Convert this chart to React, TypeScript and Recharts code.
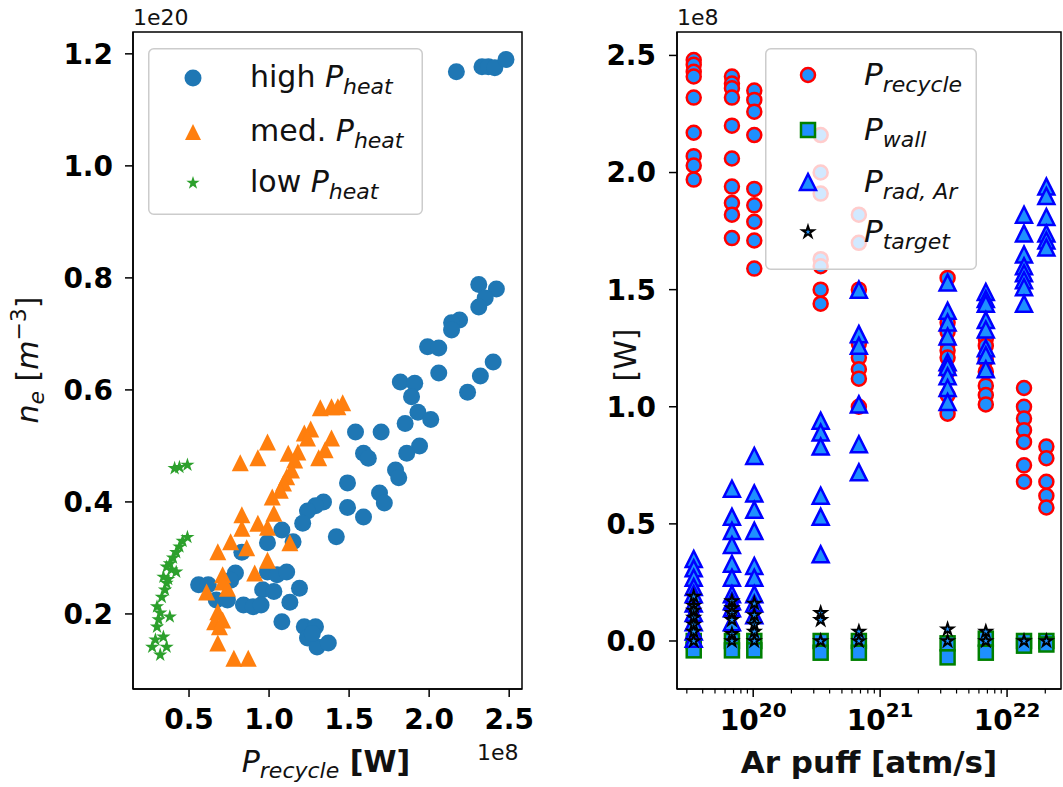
import React from 'react';
import { ScatterChart, Scatter, XAxis, YAxis, ReferenceArea, Legend } from 'recharts';

const FONT = '"DejaVu Sans", sans-serif';

// left panel: [P_recycle (1e8 W), n_e (1e20 m^-3)]
const highPheat = [
  [2.17, 1.168], [2.33, 1.177], [2.37, 1.177], [2.41, 1.175], [2.48, 1.19],
  [2.31, 0.788], [2.42, 0.78], [2.35, 0.764], [2.31, 0.748], [2.19, 0.725], [2.14, 0.72], [2.14, 0.707],
  [1.99, 0.677], [2.06, 0.675], [2.06, 0.63], [2.4, 0.65], [2.32, 0.625], [2.24, 0.596], [1.82, 0.614],
  [1.91, 0.612], [1.89, 0.588], [1.93, 0.56], [2.01, 0.547], [1.85, 0.54], [1.7, 0.525], [1.54, 0.525],
  [1.94, 0.5], [1.86, 0.487], [1.59, 0.487], [1.62, 0.478], [1.79, 0.457], [1.81, 0.443], [1.49, 0.434],
  [1.69, 0.416], [1.72, 0.398], [1.49, 0.39], [1.34, 0.4], [1.29, 0.393], [1.24, 0.384], [1.59, 0.373],
  [1.21, 0.362], [1.08, 0.35], [1.15, 0.329], [0.99, 0.327], [1.42, 0.338], [0.83, 0.31], [0.79, 0.273],
  [0.99, 0.275], [1.05, 0.27], [1.11, 0.275], [0.56, 0.252], [0.62, 0.252], [0.76, 0.26], [0.96, 0.243],
  [1.03, 0.24], [1.19, 0.246], [0.67, 0.225], [0.74, 0.225], [0.84, 0.216], [0.9, 0.213], [0.95, 0.216],
  [1.13, 0.221], [1.08, 0.186], [1.22, 0.177], [1.29, 0.177], [1.24, 0.157], [1.3, 0.141], [1.37, 0.148],
  [1.27, 0.165],
];

const medPheat = [
  [1.32, 0.568], [1.39, 0.57], [1.43, 0.57], [1.46, 0.577], [1.22, 0.523], [1.26, 0.53], [1.24, 0.514],
  [1.39, 0.514], [0.99, 0.507], [1.35, 0.493], [1.31, 0.479], [0.93, 0.479], [0.82, 0.47], [1.12, 0.487],
  [1.18, 0.489], [1.16, 0.475], [1.14, 0.457], [1.11, 0.445], [1.09, 0.434], [1.07, 0.421], [1.02, 0.409],
  [0.83, 0.377], [1.03, 0.38], [0.83, 0.353], [0.93, 0.362], [0.99, 0.355], [0.76, 0.329], [0.86, 0.318],
  [0.68, 0.311], [0.99, 0.296], [1.13, 0.327], [0.91, 0.273], [0.71, 0.27], [0.71, 0.257], [0.74, 0.246],
  [0.61, 0.239], [0.68, 0.204], [0.66, 0.186], [0.71, 0.189], [0.69, 0.177], [0.68, 0.148], [0.78, 0.121],
  [0.87, 0.121],
];

const lowPheat = [
  [0.44, 0.462], [0.49, 0.466], [0.41, 0.46], [0.49, 0.337], [0.46, 0.33], [0.44, 0.32], [0.42, 0.31],
  [0.4, 0.3], [0.38, 0.29], [0.36, 0.284], [0.39, 0.279], [0.34, 0.266], [0.36, 0.255], [0.33, 0.23],
  [0.3, 0.213], [0.38, 0.195], [0.3, 0.177], [0.34, 0.159], [0.27, 0.141], [0.32, 0.127], [0.36, 0.141],
  [0.29, 0.154], [0.32, 0.202], [0.35, 0.243], [0.42, 0.275], [0.37, 0.262], [0.31, 0.19],
];

// right panel: Ar puff rate per scan column, powers in 1e8 W
const arPuff = [3.4e19, 6.8e19, 1.02e20, 3.4e20, 6.8e20, 3.4e21, 6.8e21, 1.36e22, 2.04e22];

const pRecycle = [
  [2.48, 2.46, 2.43, 2.41, 2.32, 2.17, 2.07, 2.03, 1.97],
  [2.41, 2.38, 2.36, 2.32, 2.2, 2.06, 1.94, 1.87, 1.82, 1.72],
  [2.35, 2.31, 2.26, 2.16, 1.93, 1.86, 1.79, 1.71, 1.59],
  [2.16, 2.0, 1.91, 1.63, 1.6, 1.5, 1.44],
  [1.82, 1.7, 1.5, 1.27, 1.21, 1.16, 1.12, 1.0],
  [1.55, 1.36, 1.32, 1.27, 1.24, 1.21, 1.15, 1.05, 0.97],
  [1.29, 1.26, 1.2, 1.15, 1.09, 1.05, 1.01],
  [1.08, 1.0, 0.95, 0.9, 0.85, 0.75, 0.68],
  [0.83, 0.78, 0.68, 0.62, 0.57],
];

const pWall = [
  [0.0, -0.04], [0.0, -0.04], [0.0, -0.04], [0.0, -0.05], [0.0, -0.05],
  [-0.01, -0.07], [0.01, -0.05], [0.0, -0.02], [0.0, -0.015],
];

const pRadAr = [
  [0.35, 0.31, 0.27, 0.23, 0.2, 0.16, 0.12, 0.08, 0.04, 0.01],
  [0.65, 0.53, 0.47, 0.41, 0.33, 0.27, 0.2, 0.17, 0.14, 0.08],
  [0.79, 0.63, 0.56, 0.47, 0.32, 0.27, 0.2, 0.16, 0.11],
  [0.94, 0.89, 0.83, 0.62, 0.53, 0.37],
  [1.5, 1.31, 1.26, 1.01, 0.84, 0.72],
  [1.53, 1.41, 1.36, 1.3, 1.19, 1.17, 1.13, 1.08, 1.02],
  [1.49, 1.46, 1.44, 1.37, 1.33, 1.25, 1.22, 1.16],
  [1.82, 1.74, 1.65, 1.6, 1.57, 1.54, 1.51, 1.44],
  [1.94, 1.9, 1.81, 1.74, 1.71, 1.68],
];

const pTarget = [
  [0.19, 0.15, 0.13, 0.1, 0.07, 0.04, 0.0],
  [0.17, 0.14, 0.12, 0.09, 0.03, 0.0],
  [0.16, 0.11, 0.07, 0.04, 0.0],
  [0.12, 0.09, 0.0],
  [0.04, 0.0],
  [0.05, 0.0],
  [0.04, 0.0],
  [0.0],
  [0.0],
];

const recycleTicks = [0.5, 1.0, 1.5, 2.0, 2.5];
const neTicks = [0.2, 0.4, 0.6, 0.8, 1.0, 1.2];
const powerTicks = [0.0, 0.5, 1.0, 1.5, 2.0, 2.5];
const puffTicks = [
  3e19, 4e19, 5e19, 6e19, 7e19, 8e19, 9e19, 1e20,
  2e20, 3e20, 4e20, 5e20, 6e20, 7e20, 8e20, 9e20, 1e21,
  2e21, 3e21, 4e21, 5e21, 6e21, 7e21, 8e21, 9e21, 1e22, 2e22,
];

const toPoints = (pairs: number[][]) => pairs.map(([x, y]) => ({ x, y }));
const columnPoints = (cols: number[][]) => cols.flatMap((vals, i) => vals.map((y) => ({ x: arPuff[i], y })));

const DODGER = '#1e90ff';

const triPoints = (cx: number, cy: number, s: number) =>
  `${cx},${cy - s / 2} ${cx - s / 2},${cy + s / 2} ${cx + s / 2},${cy + s / 2}`;

const starPoints = (cx: number, cy: number, r: number) => {
  const pts: string[] = [];
  for (let i = 0; i < 10; i++) {
    const rad = i % 2 === 0 ? r : r * 0.381966;
    const a = -Math.PI / 2 + (i * Math.PI) / 5;
    pts.push(`${cx + rad * Math.cos(a)},${cy + rad * Math.sin(a)}`);
  }
  return pts.join(' ');
};

const tickFont = { fontSize: 28, fontWeight: 'bold', fill: '#000', fontFamily: FONT };

const LogTick = (props: any) => {
  const { x, y, payload } = props;
  const lg = Math.log10(payload.value);
  const exp = Math.round(lg);
  const major = Math.abs(lg - exp) < 1e-6;
  return (
    <g>
      <line x1={x} y1={y} x2={x} y2={y + (major ? 8 : 4.5)} stroke="#000" strokeWidth={major ? 1.5 : 1.2} />
      {major && (
        <text x={x} y={y + 41} textAnchor="middle" {...tickFont}>
          10<tspan dy={-13} fontSize={20}>{exp}</tspan>
        </text>
      )}
    </g>
  );
};

const LeftLegend = () => (
  <svg width={275} height={167} style={{ display: 'block' }}>
    <rect x={0.75} y={0.75} width={273.5} height={165.5} rx={5} fill="#fff" fillOpacity={0.8} stroke="#cccccc" strokeWidth={1.5} />
    <circle cx={45} cy={30} r={8.5} fill="#1f77b4" />
    <polygon points={triPoints(45, 84, 16)} fill="#ff7f0e" />
    <polygon points={starPoints(45, 135, 7)} fill="#2ca02c" />
    {[['high ', 39], ['med. ', 93], ['low ', 144]].map(([t, y]) => (
      <text key={t as string} x={102} y={y as number} fontSize={30} fontFamily={FONT} fill="#111">
        {t}<tspan fontStyle="italic">P</tspan><tspan fontStyle="italic" fontSize={22} dy={7}>heat</tspan>
      </text>
    ))}
  </svg>
);

const RightLegend = () => (
  <svg width={212} height={222} style={{ display: 'block' }}>
    <rect x={0.75} y={0.75} width={210.5} height={220.5} rx={5} fill="#fff" fillOpacity={0.8} stroke="#cccccc" strokeWidth={1.5} />
    <circle cx={43} cy={27} r={7} fill={DODGER} stroke="#ff0000" strokeWidth={2.5} />
    <rect x={36} y={75} width={14} height={14} fill={DODGER} stroke="#008000" strokeWidth={2.5} />
    <polygon points={triPoints(43, 134, 16)} fill={DODGER} stroke="#0000ff" strokeWidth={2.5} />
    <polygon points={starPoints(43, 184, 6)} fill={DODGER} stroke="#000" strokeWidth={2} />
    {[['recycle', 37], ['wall', 92], ['rad, Ar', 144], ['target', 194]].map(([t, y]) => (
      <text key={t as string} x={99} y={y as number} fontSize={31} fontFamily={FONT} fontStyle="italic" fill="#111">
        P<tspan fontSize={22} dy={7}>{t}</tspan>
      </text>
    ))}
  </svg>
);

const LeftPanel = () => (
  <ScatterChart width={560} height={787} margin={{ top: 32, right: 38, bottom: 38, left: 0 }}>
    <XAxis
      type="number"
      dataKey="x"
      domain={[0.15, 2.58]}
      allowDataOverflow
      ticks={recycleTicks}
      interval={0}
      tickFormatter={(v: number) => v.toFixed(1)}
      height={60}
      tick={tickFont}
      tickSize={8}
      tickMargin={12}
      axisLine={{ stroke: '#000', strokeWidth: 1.5 }}
      tickLine={{ stroke: '#000', strokeWidth: 1.5 }}
    />
    <YAxis
      type="number"
      dataKey="y"
      domain={[0.066, 1.239]}
      allowDataOverflow
      ticks={neTicks}
      interval={0}
      tickFormatter={(v: number) => v.toFixed(1)}
      width={133}
      tick={tickFont}
      tickSize={8}
      tickMargin={12}
      axisLine={{ stroke: '#000', strokeWidth: 1.5 }}
      tickLine={{ stroke: '#000', strokeWidth: 1.5 }}
    />
    <ReferenceArea x1={0.15} x2={2.58} y1={0.066} y2={1.239} fill="none" stroke="#000" strokeWidth={1.5} />
    <Scatter
      name="high"
      data={toPoints(highPheat)}
      isAnimationActive={false}
      shape={(p: any) => <circle cx={p.cx} cy={p.cy} r={8.5} fill="#1f77b4" />}
    />
    <Scatter
      name="med"
      data={toPoints(medPheat)}
      isAnimationActive={false}
      shape={(p: any) => <polygon points={triPoints(p.cx, p.cy, 17)} fill="#ff7f0e" />}
    />
    <Scatter
      name="low"
      data={toPoints(lowPheat)}
      isAnimationActive={false}
      shape={(p: any) => <polygon points={starPoints(p.cx, p.cy, 7.5)} fill="#2ca02c" />}
    />
    <Legend
      layout="vertical"
      align="center"
      verticalAlign="middle"
      wrapperStyle={{ left: 148, top: 48, width: 275, height: 167 }}
      content={() => <LeftLegend />}
    />
  </ScatterChart>
);

const RightPanel = () => (
  <ScatterChart width={503} height={787} margin={{ top: 32, right: 2, bottom: 38, left: 0 }}>
    <XAxis
      type="number"
      dataKey="x"
      scale="log"
      domain={[2.51e19, 2.66e22]}
      allowDataOverflow
      ticks={puffTicks}
      interval={0}
      height={60}
      tick={<LogTick />}
      tickSize={0}
      tickMargin={0}
      tickLine={false}
      axisLine={{ stroke: '#000', strokeWidth: 1.5 }}
    />
    <YAxis
      type="number"
      dataKey="y"
      domain={[-0.205, 2.6]}
      allowDataOverflow
      ticks={powerTicks}
      interval={0}
      tickFormatter={(v: number) => v.toFixed(1)}
      width={117}
      tick={tickFont}
      tickSize={8}
      tickMargin={13}
      axisLine={{ stroke: '#000', strokeWidth: 1.5 }}
      tickLine={{ stroke: '#000', strokeWidth: 1.5 }}
    />
    <ReferenceArea x1={2.51e19} x2={2.66e22} y1={-0.205} y2={2.6} fill="none" stroke="#000" strokeWidth={1.5} />
    <Scatter
      name="recycle"
      data={columnPoints(pRecycle)}
      isAnimationActive={false}
      shape={(p: any) => <circle cx={p.cx} cy={p.cy} r={7} fill={DODGER} stroke="#ff0000" strokeWidth={2.5} />}
    />
    <Scatter
      name="wall"
      data={columnPoints(pWall)}
      isAnimationActive={false}
      shape={(p: any) => <rect x={p.cx - 7} y={p.cy - 7} width={14} height={14} fill={DODGER} stroke="#008000" strokeWidth={2.5} />}
    />
    <Scatter
      name="radAr"
      data={columnPoints(pRadAr)}
      isAnimationActive={false}
      shape={(p: any) => <polygon points={triPoints(p.cx, p.cy, 16)} fill={DODGER} stroke="#0000ff" strokeWidth={2.5} />}
    />
    <Scatter
      name="target"
      data={columnPoints(pTarget)}
      isAnimationActive={false}
      shape={(p: any) => <polygon points={starPoints(p.cx, p.cy, 6)} fill={DODGER} stroke="#000" strokeWidth={2} />}
    />
    <Legend
      layout="vertical"
      align="center"
      verticalAlign="middle"
      wrapperStyle={{ left: 205, top: 48, width: 212, height: 222 }}
      content={() => <RightLegend />}
    />
  </ScatterChart>
);

export default function App() {
  return (
    <div style={{ position: 'absolute', left: 0, top: 0, width: 1063, height: 787, background: '#fff', fontFamily: FONT }}>
      <div style={{ position: 'absolute', left: 0, top: 0 }}>
        <LeftPanel />
      </div>
      <div style={{ position: 'absolute', left: 560, top: 0 }}>
        <RightPanel />
      </div>
      <svg width={1063} height={787} style={{ position: 'absolute', left: 0, top: 0, pointerEvents: 'none' }}>
        <g fontFamily={FONT} fill="#111">
          <text x={133} y={25} fontSize={22}>1e20</text>
          <text x={677} y={25} fontSize={22}>1e8</text>
          <text x={477} y={760} fontSize={22}>1e8</text>
          <text x={326} y={772} fontSize={30} textAnchor="middle">
            <tspan fontStyle="italic">P</tspan>
            <tspan fontStyle="italic" fontSize={22} dy={6}>recycle</tspan>
            <tspan dy={-6} fontWeight="bold"> [W]</tspan>
          </text>
          <text x={869} y={773} fontSize={31} fontWeight="bold" textAnchor="middle">Ar puff [atm/s]</text>
          <text transform="translate(38,360) rotate(-90)" fontSize={30} textAnchor="middle">
            <tspan fontStyle="italic">n</tspan>
            <tspan fontStyle="italic" fontSize={22} dy={6}>e</tspan>
            <tspan dy={-6}> [</tspan>
            <tspan fontStyle="italic">m</tspan>
            <tspan fontSize={22} dy={-12}>−3</tspan>
            <tspan dy={12}>]</tspan>
          </text>
          <text transform="translate(636,355) rotate(-90)" fontSize={30} textAnchor="middle">[W]</text>
        </g>
      </svg>
    </div>
  );
}
